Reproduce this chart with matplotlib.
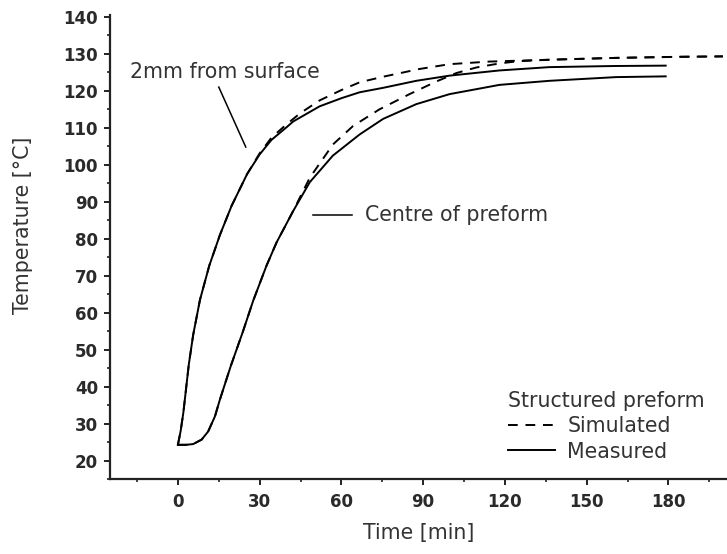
import matplotlib
matplotlib.use("Agg")
import matplotlib.pyplot as plt
from matplotlib.ticker import MultipleLocator

plt.rcParams['font.family'] = ['DejaVu Sans']

# Data
t_surf_meas = [0, 1, 2, 3, 4, 5.6, 8.1, 11.5, 15.4, 19.7, 25.4, 30, 34.3, 39.8, 42.3, 52, 60, 66.7, 75.3, 87.5, 99.7, 118, 136.4, 160, 179]
T_surf_meas = [24.3, 28, 33, 39.5, 46, 54, 63.5, 72.7, 81, 88.9, 97.5, 102.8, 106.7, 110.1, 111.7, 115.8, 118, 119.6, 120.8, 122.7, 124.1, 125.5, 126.4, 126.7, 126.8]

t_surf_sim = [0, 1, 2, 3, 4, 5.6, 8.1, 11.5, 15.4, 19.7, 25.4, 30, 34.3, 39.8, 45, 52, 60, 66.7, 75.3, 88.7, 99.7, 114.4, 136.4, 160.8, 185.2, 200]
T_surf_sim = [24.3, 28, 33, 39.5, 46, 54, 63.5, 72.7, 81, 88.9, 97.5, 103.1, 107.3, 110.9, 114.0, 117.4, 120.2, 122.3, 123.8, 125.9, 127.2, 127.9, 128.4, 128.9, 129.2, 129.3]

t_centre_meas = [0, 3, 5.6, 8.7, 11.1, 13.6, 15.4, 19.4, 23.9, 27.6, 32.5, 36.2, 42.3, 48.4, 56.9, 66.7, 75.3, 87.5, 99.7, 118, 136.4, 160.8, 179]
T_centre_meas = [24.3, 24.3, 24.5, 25.7, 27.9, 32, 36.5, 45.6, 55, 63.2, 72.7, 79, 87.5, 95.3, 102.5, 108.2, 112.4, 116.4, 119.1, 121.6, 122.7, 123.7, 123.9]

t_centre_sim = [0, 3, 5.6, 8.7, 11.1, 13.6, 15.4, 19.4, 23.9, 27.6, 32.5, 36.2, 42.3, 45, 48.4, 56.9, 64.3, 74, 85, 94.8, 102.2, 109.5, 118, 125, 136.4, 160.8, 185.2, 200]
T_centre_sim = [24.3, 24.3, 24.5, 25.7, 27.9, 32, 36.5, 45.6, 55, 63.2, 72.7, 79, 87.5, 91.5, 96.5, 105.5, 110.5, 115, 119.1, 122.5, 124.8, 126.3, 127.4, 128.0, 128.4, 128.9, 129.2, 129.3]

x_ticks = [0, 30, 60, 90, 120, 150, 180]
y_ticks = [20, 30, 40, 50, 60, 70, 80, 90, 100, 110, 120, 130, 140]

TXT = '#333333'
FS = 14.8

fig = plt.figure(figsize=(7.27, 5.54), dpi=100)
ax = fig.add_axes([0.151, 0.135, 0.849, 0.838])

dash = (0, (5, 4))
lw = 1.4
ax.plot(t_surf_sim, T_surf_sim, color='black', lw=lw, linestyle=dash)
ax.plot(t_centre_sim, T_centre_sim, color='black', lw=lw, linestyle=dash)
l_sim, = ax.plot([], [], color='black', lw=lw, linestyle=dash, label='Simulated')
ax.plot(t_surf_meas, T_surf_meas, color='black', lw=lw)
l_meas, = ax.plot(t_centre_meas, T_centre_meas, color='black', lw=lw, label='Measured')

ax.set_xlim(-25, 201.5)
ax.set_ylim(15, 140.5)
ax.set_xticks(x_ticks)
ax.set_yticks(y_ticks)
ax.xaxis.set_minor_locator(MultipleLocator(15))
ax.yaxis.set_minor_locator(MultipleLocator(5))

for s in ['top', 'right']:
    ax.spines[s].set_visible(False)
for s in ['left', 'bottom']:
    ax.spines[s].set_linewidth(1.6)
    ax.spines[s].set_color('#222222')

ax.tick_params(which='major', direction='out', length=4, width=1.4, colors='#222222', labelsize=12, pad=4.5)
ax.tick_params(axis='x', which='major', pad=6)
ax.tick_params(which='minor', direction='out', length=2.5, width=1.2, colors='#222222')
for lab in ax.get_xticklabels() + ax.get_yticklabels():
    lab.set_fontweight('bold')
    lab.set_color('#2a2a2a')

ax.set_xlabel('Time [min]', fontsize=FS, color=TXT)
ax.set_ylabel('Temperature [°C]', fontsize=FS, color=TXT)
ax.xaxis.set_label_coords(0.5, -0.116)
ax.yaxis.set_label_coords(-0.141, 0.547)
ax.xaxis.label.set_va('center')
ax.yaxis.label.set_va('center')

# Annotations
ax.text(-17.6, 123.5, '2mm from surface', fontsize=FS, color=TXT, va='baseline', ha='left')
ax.plot([15.0, 24.9], [121.0, 104.8], color='black', lw=1.1)
ax.text(68.5, 86.3, 'Centre of preform', fontsize=FS, color=TXT, va='center', ha='left')
ax.plot([49.5, 63.8], [86.3, 86.3], color='black', lw=1.1)

leg = ax.legend(handles=[l_sim, l_meas], title='Structured preform', loc='upper left',
                bbox_to_anchor=(0.645, 0.1895), frameon=False, fontsize=FS, title_fontsize=FS,
                alignment='left', handlelength=2.3, handletextpad=0.6, labelspacing=0.25,
                borderaxespad=0, borderpad=0)
for txt in leg.get_texts():
    txt.set_color(TXT)
leg.get_title().set_color(TXT)

fig.savefig('out.png', dpi=100)
